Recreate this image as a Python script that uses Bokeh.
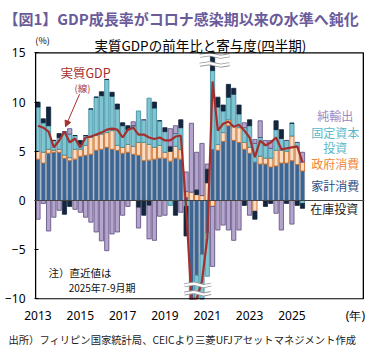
import numpy as np
from bokeh.plotting import figure
from bokeh.models import Label, Span, Arrow, NormalHead, FixedTicker, ColumnDataSource, Range1d, Title
from bokeh.embed import file_html
from bokeh.resources import INLINE

# ---------------- data (contributions, percentage points) ----------------
year_ticks = ["2013", "2015", "2017", "2019", "2021", "2023", "2025"]
household = [4.2, 3.8, 4.8, 4.9, 4.9, 4.3, 4.05, 4.2, 4.5, 4.6, 4.7, 5.1, 5.2, 5.4, 5.2, 5.1,
             4.8, 4.9, 4.7, 4.6, 4.05, 4.1, 4.2, 4.3, 4.3, 4.0, 4.3, 4.2,
             0.3, -11.5, -7.6, -5.5, -3.3, 5.2, 5.1, 6.0, 7.6, 6.1, 5.9, 5.2,
             4.8, 3.9, 3.7, 3.7, 3.4, 3.5, 3.8, 3.8, 4.05, 3.65, 3.0]
government = [0.8, 1.1, 0.4, 0.2, 0.3, 0.3, 0.3, 1.0, 0.7, 1.0, 1.7, 1.5, 1.55, 1.5, 1.9, 0.5,
              0.6, 0.8, 0.8, 1.3, 1.85, 1.6, 1.2, 1.3, 0.6, 1.0, 1.2, 1.0,
              0.6, 0.85, 0.6, 0.5, 1.8, -0.6, 0.6, 0.9, 0.6, 1.4, 1.5, 0.7,
              0.6, -1.1, 0.8, 0.6, 0.9, 1.6, 1.3, 1.2, 2.5, 1.75, 0.9]
fixed_inv = [4.5, 3.0, 2.4, 1.0, 1.2, 2.4, 2.4, 1.4, 0.5, 1.0, 2.9, 3.9, 3.9, 5.4, 3.5, 3.7,
             2.2, 1.5, 2.1, 3.2, 2.3, 4.7, 4.0, 2.5, 2.1, -0.5, 1.3, 2.2,
             -0.6, -9.4, -8.9, -7.5, -4.4, 8.0, 3.8, 2.2, 2.3, 3.3, 1.4, 1.5,
             2.2, 1.9, 1.9, 1.3, 1.0, 2.1, 1.2, 1.1, 1.3, 0.5, -0.3]
inventory = [0.5, 0.4, 1.9, 0.0, 0.4, -1.4, -0.6, 0.0, 0.4, 0.0, 0.0, 0.0, 0.4, 0.0, 0.4, 0.5,
             0.3, 0.4, 0.0, -0.7, -1.5, -0.5, 0.6, 0.0, 0.4, 0.5, -1.5, 0.8,
             -3.0, -4.0, 0.5, -1.0, 1.4, 5.6, 1.0, 0.6, 1.3, 0.6, 0.9, -0.5,
             0.6, -0.8, 0.0, -0.6, -0.3, 0.9, 0.9, -0.3, 0.0, -0.5, -0.5]
net_exports = [-1.9, -0.3, -3.1, -1.7, -1.0, 0.0, 0.55, -0.9, -1.2, -1.7, -2.2, -3.2, -4.1, -5.1, -3.4, -3.2,
               -1.5, -0.6, 0.4, -2.1, 0.0, -3.4, -4.05, -1.6, -1.5, 1.8, 0.8, -1.2,
               2.0, 7.0, 3.8, 5.3, 0.5, -6.1, -3.0, -2.5, -3.0, -4.05, -3.0, 0.5,
               -1.5, 0.4, 1.7, 0.5, 0.8, -1.3, -3.0, 0.0, -2.4, 0.0, 1.0]
real_gdp = [7.6, 7.4, 7.0, 5.4, 6.1, 7.0, 5.9, 6.3, 5.4, 6.4, 6.5, 6.7, 6.9, 7.2, 7.3, 7.2,
            6.4, 7.2, 7.4, 6.7, 6.7, 6.4, 6.25, 6.4, 6.1, 6.1, 6.5, 6.6,
            -0.7, -17.0, -11.6, -8.2, -3.8, 12.1, 7.1, 7.8, 8.0, 7.5, 7.7, 7.1,
            6.4, 4.4, 6.1, 5.6, 5.9, 6.4, 5.2, 5.3, 5.4, 5.5, 3.9]
top_break_levels = [13.8, 14.7]
bottom_break_levels = [-8.6, -9.45]

n = len(real_gdp)
idx = np.arange(n)

JP = "Noto Sans CJK JP"
Y_MIN, Y_MAX = -10, 15          # plotted value range (box)
X_MIN, X_MAX = -0.45, 61.5      # box in quarter-index units

p = figure(width=388, height=351, output_backend="svg", toolbar_location=None,
           x_range=Range1d(-0.66, 61.72), y_range=Range1d(-10.06, 17.07),
           min_border_left=34, min_border_right=24, min_border_top=32, min_border_bottom=52)
p.background_fill_color = "white"
p.border_fill_color = "white"
p.outline_line_color = None
p.xgrid.visible = False
p.ygrid.visible = False

# ---------------- stacked bars ----------------
series = [
    (household, "#3A6595", "#8896A8"),
    (government, "#FBDCC2", "#C25A12"),
    (fixed_inv, "#80C5D3", "#3B8A9B"),
    (inventory, "#13263E", "#13263E"),
    (net_exports, "#B5A5CD", "#5B4B7C"),
]
pos_base = np.zeros(n)
neg_base = np.zeros(n)
for vals, fill, edge in series:
    v = np.array(vals, dtype=float)
    pos = np.where(v > 0, v, 0.0)
    neg = np.where(v < 0, v, 0.0)
    top = np.where(v >= 0, pos_base + pos, neg_base + neg)
    bottom = np.where(v >= 0, pos_base, neg_base)
    pos_base = pos_base + pos
    neg_base = neg_base + neg
    src = ColumnDataSource(dict(x=idx, top=np.clip(top, Y_MIN, Y_MAX),
                                bottom=np.clip(bottom, Y_MIN, Y_MAX)))
    p.vbar(x="x", top="top", bottom="bottom", width=0.8, source=src,
           fill_color=fill, line_color=edge, line_width=0.8)

p.add_layout(Span(location=0, dimension="width", line_color="#444444", line_width=1.2))

# GDP line (clipped to box at the bottom)
p.line(idx, np.clip(np.array(real_gdp), Y_MIN, Y_MAX), line_color="#A52F2D", line_width=2.2)

# axis-break marks
for lv in top_break_levels:
    xs = [30.6, 32.5, 34.5, 36.2]
    ys = [lv, lv + 0.15, lv - 0.1, lv + 0.05]
    p.line(xs, ys, line_color="#9A9A9A", line_width=4)
    p.line(xs, ys, line_color="white", line_width=2.2)
for lv in bottom_break_levels:
    xs = [27.7, 29.5, 31.3, 32.7]
    ys = [lv, lv + 0.15, lv - 0.1, lv + 0.05]
    p.line(xs, ys, line_color="#9A9A9A", line_width=4)
    p.line(xs, ys, line_color="white", line_width=2.2)

# plot box
p.quad(left=[X_MIN], right=[X_MAX], bottom=[Y_MIN], top=[Y_MAX],
       fill_color=None, line_color="black", line_width=1.3)

# ---------------- axes ----------------
p.yaxis.ticker = FixedTicker(ticks=[-10, -5, 0, 5, 10, 15])
p.yaxis.major_label_text_font = "Noto Sans"
p.yaxis.major_label_text_font_size = "12px"
p.yaxis.major_label_text_color = "black"
p.yaxis.major_tick_in = 4
p.yaxis.major_tick_out = 0
p.yaxis.minor_tick_line_color = None
p.yaxis.axis_line_color = None
p.yaxis.major_tick_line_color = "black"
p.yaxis.major_label_standoff = 9

xt = [8 * k for k in range(len(year_ticks))] + [60.0]
p.xaxis.ticker = FixedTicker(ticks=xt)
overrides = {8 * k: t for k, t in enumerate(year_ticks)}
overrides[60.0] = "(年)"
p.xaxis.major_label_overrides = overrides
p.xaxis.major_label_text_font = "Noto Sans"
p.xaxis.major_label_text_font_size = "12px"
p.xaxis.major_label_text_color = "black"
p.xaxis.major_tick_in = 0
p.xaxis.major_tick_out = 0
p.xaxis.minor_tick_line_color = None
p.xaxis.axis_line_color = None
p.xaxis.major_label_standoff = 7

# ---------------- titles (outside the frame) ----------------
main = Title(text="【図1】GDP成長率がコロナ感染期以来の水準へ鈍化", align="left", offset=-31,
             text_font=JP, text_font_size="15px", text_font_style="bold",
             text_color="#6A5B9B", standoff=7)
p.add_layout(main, "above")
foot = Title(text="出所）フィリピン国家統計局、CEICより三菱UFJアセットマネジメント作成",
             align="left", offset=-26, text_font=JP, text_font_size="10.3px",
             text_font_style="normal", text_color="#222222", standoff=6)
p.add_layout(foot, "below")

# ---------------- texts inside the frame ----------------
def data_label(x, y, text, size, color, align="center"):
    p.add_layout(Label(x=x, y=y, text=text, text_font=JP, text_font_size=size,
                       text_color=color, text_align=align, text_baseline="middle"))

data_label(30.7, 15.85, "実質GDPの前年比と寄与度(四半期)", "13.5px", "black")
data_label(-0.5, 16.25, "(%)", "9px", "black", align="left")

data_label(56.2, 8.64, "純輸出", "12px", "#9C87C1")
data_label(56.2, 6.94, "固定資本", "12px", "#58B8C9")
data_label(56.2, 5.35, "投資", "12px", "#58B8C9")
data_label(56.2, 3.79, "政府消費", "12px", "#EE8636")
data_label(56.2, 1.52, "家計消費", "12px", "#2B4C7E")
data_label(56.0, -0.85, "在庫投資", "12px", "#1A1A1A")

data_label(4.25, 13.0, "実質GDP", "12.5px", "#A52F2D", align="left")
data_label(6.9, 11.4, "(線)", "9.5px", "#A52F2D", align="left")
p.add_layout(Arrow(x_start=7.85, y_start=10.8, x_end=5.2, y_end=7.5,
                   line_color="#A52F2D", line_width=1,
                   end=NormalHead(size=6, fill_color="#A52F2D", line_color="#A52F2D")))

data_label(2.0, -7.3, "注）直近値は", "10.5px", "#111111", align="left")
data_label(5.8, -8.85, "2025年7-9月期", "10px", "#111111", align="left")

open("out.html", "w").write(file_html(p, INLINE))
